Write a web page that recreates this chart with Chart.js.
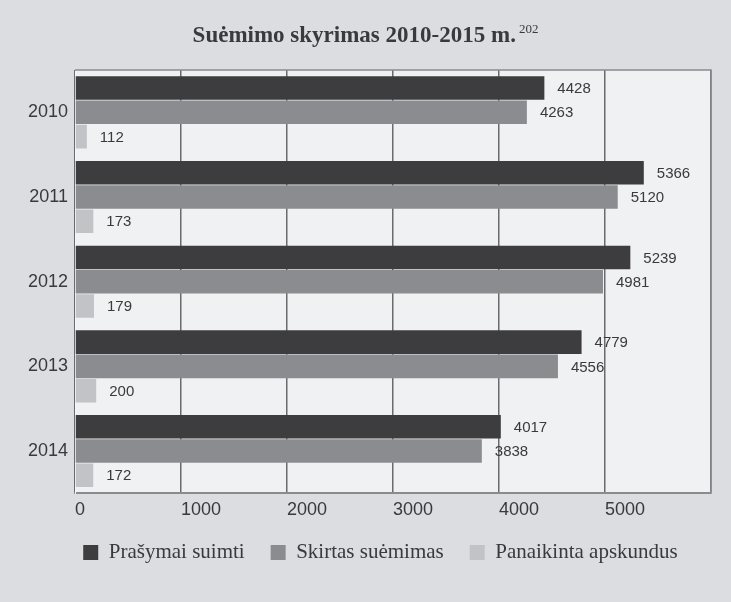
<!DOCTYPE html>
<html>
<head>
<meta charset="utf-8">
<script src="https://cdn.jsdelivr.net/npm/chart.js@4/dist/chart.umd.min.js"></script>
<style>
	html, body { margin: 0; padding: 0; background: #dcdde0; }
	#wrap { width: 731px; height: 602px; }
</style>
</head>
<body>
<div id="wrap"><canvas id="chart" width="731" height="602"></canvas></div>
<script>
const years = ["2010", "2011", "2012", "2013", "2014"];
const seriesNames = ["Prašymai suimti", "Skirtas suėmimas", "Panaikinta apskundus"];
const requested = [4428, 5366, 5239, 4779, 4017];
const granted = [4263, 5120, 4981, 4556, 3838];
const overturned = [112, 173, 179, 200, 172];
const xTicks = [0, 1000, 2000, 3000, 4000, 5000];

const sansFont = "'Liberation Sans', Arial, sans-serif";
const serifFont = "'Liberation Serif', 'Times New Roman', serif";
const textColor = "#3a3a3c";

// plot background + frame
const plotBg = {
	id: "plotBg",
	beforeDraw(chart) {
		const { ctx, chartArea: a } = chart;
		ctx.save();
		ctx.fillStyle = "#f0f1f3";
		ctx.fillRect(a.left, a.top, a.right - a.left, a.bottom - a.top);
		ctx.restore();
	},
	afterDraw(chart) {
		const { ctx, chartArea: a } = chart;
		ctx.save();
		ctx.strokeStyle = "#8a8b8e";
		ctx.lineWidth = 1.5;
		ctx.beginPath();
		ctx.moveTo(a.left, a.top);
		ctx.lineTo(a.right, a.top);
		ctx.lineTo(a.right, a.bottom);
		ctx.stroke();
		ctx.restore();
	}
};

// legend sits a bit right of centre and higher in the original
const legendShift = {
	id: "legendShift",
	afterLayout(chart) {
		const lg = chart.legend;
		if (!lg) return;
		lg.left += 25;
		lg.right += 25;
		lg.top -= 11;
		lg.bottom -= 11;
	}
};

// title with the footnote number raised
const titlePlugin = {
	id: "titlePlugin",
	afterDraw(chart) {
		const ctx = chart.ctx;
		const main = "Suėmimo skyrimas 2010-2015 m.";
		const sup = "202";
		ctx.save();
		ctx.fillStyle = textColor;
		ctx.textBaseline = "alphabetic";
		ctx.font = "bold 23px " + serifFont;
		const w1 = ctx.measureText(main).width;
		ctx.font = "13px " + serifFont;
		const w2 = ctx.measureText(sup).width;
		const x0 = chart.width / 2 - (w1 + w2 + 3) / 2;
		ctx.font = "bold 23px " + serifFont;
		ctx.textAlign = "left";
		ctx.fillText(main, x0, 42);
		ctx.font = "13px " + serifFont;
		ctx.fillText(sup, x0 + w1 + 3, 33);
		ctx.restore();
	}
};

// value next to each bar
const valueLabels = {
	id: "valueLabels",
	afterDatasetsDraw(chart) {
		const ctx = chart.ctx;
		ctx.save();
		ctx.font = "15px " + sansFont;
		ctx.fillStyle = textColor;
		ctx.textAlign = "left";
		ctx.textBaseline = "middle";
		chart.data.datasets.forEach((ds, i) => {
			chart.getDatasetMeta(i).data.forEach((bar, j) => {
				ctx.fillText(String(ds.data[j]), bar.x + 13, bar.y + 1);
			});
		});
		ctx.restore();
	}
};

const ctx = document.getElementById("chart");
const chart = new Chart(ctx, {
	type: "bar",
	data: {
		labels: years,
		datasets: [
			{ label: seriesNames[0], data: requested, backgroundColor: "#3d3d3f" },
			{ label: seriesNames[1], data: granted, backgroundColor: "#8b8c8f" },
			{ label: seriesNames[2], data: overturned, backgroundColor: "#c2c3c6" }
		]
	},
	options: {
		indexAxis: "y",
		responsive: false,
		animation: false,
		devicePixelRatio: 1,
		datasets: {
			bar: { categoryPercentage: 0.86, barPercentage: 0.97 }
		},
		layout: { padding: { top: 70, right: 20, left: 0, bottom: 18 } },
		scales: {
			x: {
				min: 0,
				max: 6000,
				afterBuildTicks(axis) {
					axis.ticks = xTicks.concat([6000]).map(v => ({ value: v }));
				},
				grid: { color: "#6a6b6e", lineWidth: 1.5, drawTicks: false },
				border: { display: true, color: "#8a8b8e", width: 2 },
				ticks: {
					align: "start",
					autoSkip: false,
					maxRotation: 0,
					padding: 6,
					color: textColor,
					font: { family: sansFont, size: 18 },
					callback: v => (xTicks.includes(v) ? String(v) : "")
				}
			},
			y: {
				afterFit(axis) { axis.width = 75; },
				grid: { display: false, drawTicks: false },
				border: { display: true, color: "#f7f8fa", width: 1 },
				ticks: {
					padding: 7,
					color: textColor,
					font: { family: sansFont, size: 18 }
				}
			}
		},
		plugins: {
			title: { display: false },
			tooltip: { enabled: false },
			legend: {
				position: "bottom",
				labels: {
					boxWidth: 15,
					boxHeight: 15,
					padding: 26,
					color: textColor,
					font: { family: serifFont, size: 21 }
				}
			}
		}
	},
	plugins: [plotBg, legendShift, titlePlugin, valueLabels]
});
</script>
</body>
</html>
